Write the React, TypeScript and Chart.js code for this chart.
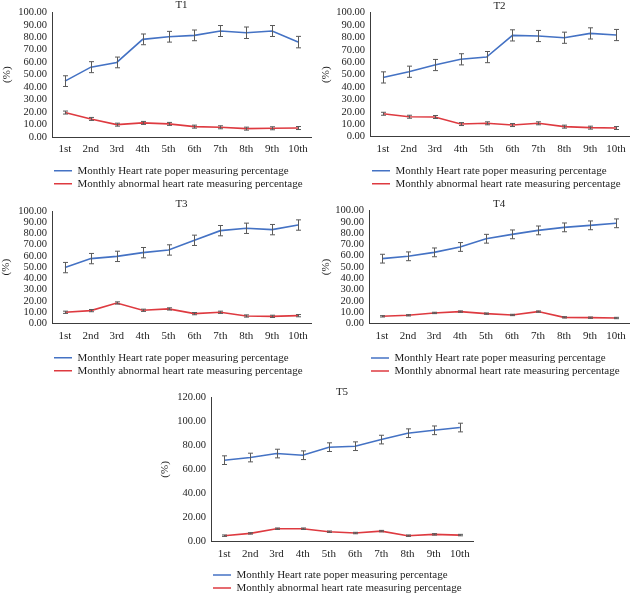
import React, { useEffect, useRef } from "react";
import { Chart, registerables } from "chart.js";

Chart.register(...registerables);

// ---------- data ----------
const months = ["1st", "2nd", "3rd", "4th", "5th", "6th", "7th", "8th", "9th", "10th"];
const properLabel = "Monthly Heart rate poper measuring percentage";
const abnormalLabel = "Monthly abnormal heart rate measuring percentage";
const yAxisTitle = "(%)";

const t1Proper = [44.8, 56.0, 59.8, 78.3, 80.4, 81.5, 85.0, 83.6, 85.0, 76.1];
const t1ProperErr = [4.3, 4.4, 4.3, 4.3, 4.3, 4.3, 4.4, 4.6, 4.4, 4.6];
const t1Abnormal = [19.6, 14.5, 9.9, 11.3, 10.5, 8.3, 7.8, 6.7, 7.0, 7.2];
const t1AbnormalErr = [1.2, 1.2, 1.2, 1.2, 1.2, 1.2, 1.2, 1.2, 1.2, 1.2];

const t2Proper = [47.8, 52.4, 57.8, 62.4, 64.2, 81.7, 81.2, 79.8, 83.3, 82.0];
const t2ProperErr = [4.5, 4.5, 4.5, 4.5, 4.5, 4.5, 4.5, 4.5, 4.5, 4.5];
const t2Abnormal = [18.5, 16.1, 15.9, 10.2, 10.8, 9.4, 10.8, 8.1, 7.3, 7.0];
const t2AbnormalErr = [1.2, 1.2, 1.2, 1.2, 1.2, 1.2, 1.2, 1.2, 1.2, 1.2];

const t3Proper = [49.6, 57.6, 59.6, 62.9, 65.3, 73.9, 82.5, 84.6, 83.4, 87.5];
const t3ProperErr = [4.6, 4.6, 4.6, 4.6, 4.6, 4.6, 4.6, 4.6, 4.6, 4.6];
const t3Abnormal = [9.8, 11.3, 18.1, 11.6, 12.8, 8.6, 9.8, 6.5, 6.2, 6.8];
const t3AbnormalErr = [1.0, 1.0, 1.0, 1.0, 1.0, 1.0, 1.0, 1.0, 1.0, 1.0];

const t4Proper = [57.4, 59.5, 63.0, 67.8, 75.1, 79.0, 82.5, 85.2, 87.0, 88.8];
const t4ProperErr = [3.9, 3.9, 3.9, 3.9, 3.9, 3.9, 3.9, 3.9, 3.9, 3.9];
const t4Abnormal = [6.2, 7.1, 9.2, 10.4, 8.6, 7.4, 10.4, 5.3, 5.0, 4.7];
const t4AbnormalErr = [0.6, 0.6, 0.6, 0.6, 0.6, 0.6, 0.6, 0.6, 0.6, 0.6];

const t5Proper = [67.7, 69.9, 73.2, 71.8, 78.5, 79.3, 84.8, 90.1, 92.5, 94.8];
const t5ProperErr = [3.6, 3.6, 3.6, 3.6, 3.6, 3.6, 3.6, 3.6, 3.6, 3.6];
const t5Abnormal = [5.0, 6.9, 10.8, 10.8, 8.3, 7.2, 8.8, 5.0, 6.1, 5.5];
const t5AbnormalErr = [0.6, 0.6, 0.6, 0.6, 0.6, 0.6, 0.6, 0.6, 0.6, 0.6];

const axisMax100 = 100;
const axisStep100 = 10;
const axisMax120 = 120;
const axisStep120 = 20;

// ---------- styles ----------
const FONT = "'Liberation Serif', 'Times New Roman', serif";
const BLUE = "#4472C4";
const RED = "#DE3A40";
const AXIS = "#3c3c3c";
const TEXT = "#1e1e1e";
const TITLE_SIZE = 11;
const LEGEND_SIZE = 11;
const LEGEND_PAD = 2;

const errorBarPlugin = {
  id: "errorBars",
  afterDatasetsDraw(chart: any) {
    const ctx = chart.ctx;
    const yScale = chart.scales.y;
    chart.data.datasets.forEach((ds: any, i: number) => {
      const errs = ds.errors;
      if (!errs) return;
      const meta = chart.getDatasetMeta(i);
      ctx.save();
      ctx.strokeStyle = "#5a5a5a";
      ctx.lineWidth = 1;
      meta.data.forEach((pt: any, j: number) => {
        const v = ds.data[j];
        const e = errs[j];
        const x = Math.round(pt.x) + 0.5;
        const y1 = yScale.getPixelForValue(v + e);
        const y2 = yScale.getPixelForValue(v - e);
        ctx.beginPath();
        ctx.moveTo(x, y1);
        ctx.lineTo(x, y2);
        ctx.moveTo(x - 2.5, y1);
        ctx.lineTo(x + 2.5, y1);
        ctx.moveTo(x - 2.5, y2);
        ctx.lineTo(x + 2.5, y2);
        ctx.stroke();
      });
      ctx.restore();
    });
  },
};

type Geo = {
  box: { left: number; top: number; w: number; h: number };
  area: { l: number; r: number; t: number; b: number };
  titleY: number;
  legendY: number;
  yTitleX: number;
};

type PanelProps = {
  title: string;
  proper: number[];
  properErr: number[];
  abnormal: number[];
  abnormalErr: number[];
  yMax: number;
  yStep: number;
  geo: Geo;
};

function Panel({ title, proper, properErr, abnormal, abnormalErr, yMax, yStep, geo }: PanelProps) {
  const ref = useRef<HTMLCanvasElement | null>(null);

  useEffect(() => {
    if (!ref.current) return;
    const { box, area, titleY, legendY, yTitleX } = geo;
    const padTop = Math.max(0, titleY - TITLE_SIZE / 2);
    const titlePadBottom = Math.max(0, area.t - padTop - TITLE_SIZE);
    const rowCenter = LEGEND_PAD + LEGEND_SIZE / 2;
    const legendHeight = 2 * (LEGEND_SIZE + LEGEND_PAD) + 10;
    const xAxisH = legendY - rowCenter - area.b;
    const padBottom = box.h - area.b - xAxisH - legendHeight;
    const padRight = box.w - area.r;
    const yTitleLH = 11 * 1.2;

    const chart = new Chart(ref.current, {
      type: "line",
      data: {
        labels: months,
        datasets: [
          {
            label: properLabel,
            data: proper,
            errors: properErr,
            borderColor: BLUE,
            backgroundColor: BLUE,
            borderWidth: 1.6,
            pointRadius: 0,
            tension: 0,
            fill: false,
          } as any,
          {
            label: abnormalLabel,
            data: abnormal,
            errors: abnormalErr,
            borderColor: RED,
            backgroundColor: RED,
            borderWidth: 1.6,
            pointRadius: 0,
            tension: 0,
            fill: false,
          } as any,
        ],
      },
      options: {
        responsive: false,
        animation: false,
        layout: { padding: { left: 0, right: padRight, top: padTop, bottom: padBottom } },
        plugins: {
          title: {
            display: true,
            text: title,
            fullSize: false,
            color: TEXT,
            font: { family: FONT, size: TITLE_SIZE, lineHeight: 1, weight: "normal" },
            padding: { top: 0, bottom: titlePadBottom },
          },
          legend: {
            display: true,
            position: "bottom",
            align: "start",
            fullSize: false,
            labels: {
              usePointStyle: true,
              pointStyle: "line",
              pointStyleWidth: 18,
              boxHeight: LEGEND_SIZE,
              padding: LEGEND_PAD,
              color: TEXT,
              font: { family: FONT, size: LEGEND_SIZE },
            },
          },
          tooltip: { enabled: false },
        },
        scales: {
          x: {
            type: "category",
            offset: true,
            grid: { display: false, drawTicks: false },
            border: { display: true, color: AXIS, width: 1 },
            ticks: {
              color: TEXT,
              padding: 6,
              maxRotation: 0,
              autoSkip: false,
              font: { family: FONT, size: 11 },
            },
            afterFit: (scale: any) => {
              scale.height = xAxisH;
            },
          },
          y: {
            min: 0,
            max: yMax,
            grid: { display: false, drawTicks: false },
            border: { display: true, color: AXIS, width: 1 },
            ticks: {
              stepSize: yStep,
              autoSkip: false,
              color: TEXT,
              padding: 5,
              font: { family: FONT, size: 10.5, lineHeight: 1 },
              callback: (v: any) => Number(v).toFixed(2),
            },
            title: {
              display: true,
              text: yAxisTitle,
              color: TEXT,
              font: { family: FONT, size: 11 },
              padding: { top: Math.max(0, yTitleX - yTitleLH / 2), bottom: 0 },
            },
            afterFit: (scale: any) => {
              scale.width = area.l;
            },
          },
        },
      } as any,
      plugins: [errorBarPlugin],
    });
    return () => chart.destroy();
  }, [title, proper, properErr, abnormal, abnormalErr, yMax, yStep, geo]);

  return (
    <canvas
      ref={ref}
      width={geo.box.w}
      height={geo.box.h}
      style={{
        position: "absolute",
        left: geo.box.left,
        top: geo.box.top,
        width: geo.box.w,
        height: geo.box.h,
      }}
    />
  );
}

const geo1: Geo = {
  box: { left: 0, top: 0, w: 316, h: 200 },
  area: { l: 52, r: 311, t: 12.3, b: 137 },
  titleY: 5,
  legendY: 170.7,
  yTitleX: 7,
};
const geo2: Geo = {
  box: { left: 316, top: 0, w: 316, h: 200 },
  area: { l: 54, r: 315, t: 12.7, b: 136.7 },
  titleY: 6,
  legendY: 170.7,
  yTitleX: 10,
};
const geo3: Geo = {
  box: { left: 0, top: 195, w: 316, h: 200 },
  area: { l: 52, r: 311, t: 16, b: 128.3 },
  titleY: 9,
  legendY: 162.7,
  yTitleX: 6,
};
const geo4: Geo = {
  box: { left: 316, top: 195, w: 316, h: 200 },
  area: { l: 53, r: 315, t: 15.7, b: 128.3 },
  titleY: 9.3,
  legendY: 163,
  yTitleX: 10,
};
const geo5: Geo = {
  box: { left: 150, top: 380, w: 340, h: 225 },
  area: { l: 61, r: 323, t: 16.9, b: 161.7 },
  titleY: 11.7,
  legendY: 195,
  yTitleX: 15,
};

export default function App() {
  return (
    <div
      style={{
        position: "absolute",
        left: 0,
        top: 0,
        width: 632,
        height: 595,
        overflow: "hidden",
        background: "#ffffff",
      }}
    >
      <Panel title="T1" proper={t1Proper} properErr={t1ProperErr} abnormal={t1Abnormal} abnormalErr={t1AbnormalErr} yMax={axisMax100} yStep={axisStep100} geo={geo1} />
      <Panel title="T2" proper={t2Proper} properErr={t2ProperErr} abnormal={t2Abnormal} abnormalErr={t2AbnormalErr} yMax={axisMax100} yStep={axisStep100} geo={geo2} />
      <Panel title="T3" proper={t3Proper} properErr={t3ProperErr} abnormal={t3Abnormal} abnormalErr={t3AbnormalErr} yMax={axisMax100} yStep={axisStep100} geo={geo3} />
      <Panel title="T4" proper={t4Proper} properErr={t4ProperErr} abnormal={t4Abnormal} abnormalErr={t4AbnormalErr} yMax={axisMax100} yStep={axisStep100} geo={geo4} />
      <Panel title="T5" proper={t5Proper} properErr={t5ProperErr} abnormal={t5Abnormal} abnormalErr={t5AbnormalErr} yMax={axisMax120} yStep={axisStep120} geo={geo5} />
    </div>
  );
}
